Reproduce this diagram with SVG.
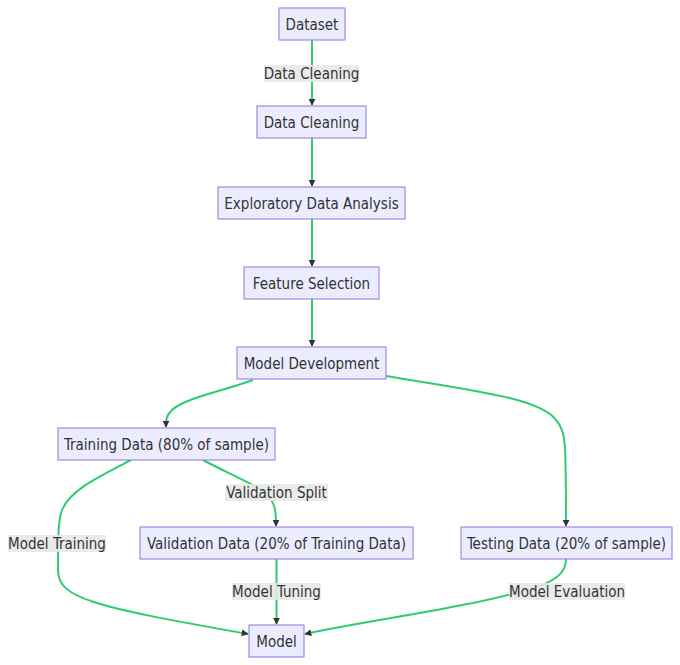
<svg xmlns="http://www.w3.org/2000/svg" width="680" height="665" viewBox="0 0 680 665">
<style>
.node rect{fill:#ECECFF;stroke:#9370DB;stroke-width:1}
text{font-family:"DejaVu Sans Condensed","DejaVu Sans","Liberation Sans",sans-serif;font-stretch:condensed;font-size:15px;fill:#333;text-anchor:middle;dominant-baseline:central}
.edge{fill:none;stroke:#2ecc71;stroke-width:2}
.lbl rect{fill:#e8e8e8;opacity:0.9}
</style>
<defs>
<marker id="arr" viewBox="0 0 10 10" refX="9" refY="5" markerWidth="7" markerHeight="7" orient="auto" markerUnits="userSpaceOnUse">
<path d="M0,0 L10,5 L0,10 z" fill="#333"/>
</marker>
</defs>
<g id="edges">
<path class="edge" d="M312,40 V105" marker-end="url(#arr)"/>
<path class="edge" d="M312,138 V186" marker-end="url(#arr)"/>
<path class="edge" d="M312,219 V266" marker-end="url(#arr)"/>
<path class="edge" d="M312,299 V346" marker-end="url(#arr)"/>
<path class="edge" d="M253,380 C220,392 185,398 172,410 C166,416 166,420 166,427" marker-end="url(#arr)"/>
<path class="edge" d="M386,376 C470,390 540,398 556,420 C566,432 566,440 566,526" marker-end="url(#arr)"/>
<path class="edge" d="M203,460 C225,472 250,482 264,492 C276,502 276,512 276,526" marker-end="url(#arr)"/>
<path class="edge" d="M131,460 C100,476 70,490 62,510 C58,520 58,540 58,570 C58,598 90,606 248,634" marker-end="url(#arr)"/>
<path class="edge" d="M276.5,559 V624" marker-end="url(#arr)"/>
<path class="edge" d="M566,559 C566,570 560,578 540,586 C470,608 380,618 305,634" marker-end="url(#arr)"/>
</g>
<g id="edge-labels">
<g class="lbl"><rect x="264" y="65" width="95" height="17"/><text x="311.5" y="73.5">Data Cleaning</text></g>
<g class="lbl"><rect x="225" y="484" width="103" height="17"/><text x="276.5" y="492.5">Validation Split</text></g>
<g class="lbl"><rect x="8" y="535" width="98" height="17"/><text x="57" y="543.5">Model Training</text></g>
<g class="lbl"><rect x="232" y="583" width="89" height="17"/><text x="276.5" y="591.5">Model Tuning</text></g>
<g class="lbl"><rect x="509" y="583" width="116" height="17"/><text x="567" y="591.5">Model Evaluation</text></g>
</g>
<g id="n-dataset" class="node"><rect x="279" y="8" width="66" height="32"/><text x="312" y="24.5">Dataset</text></g>
<g id="n-cleaning" class="node"><rect x="257" y="106" width="109" height="32"/><text x="311.5" y="122.5">Data Cleaning</text></g>
<g id="n-eda" class="node"><rect x="218" y="187" width="187" height="32"/><text x="311.5" y="203.5">Exploratory Data Analysis</text></g>
<g id="n-features" class="node"><rect x="244" y="267" width="135" height="32"/><text x="311.5" y="283.5">Feature Selection</text></g>
<g id="n-dev" class="node"><rect x="237" y="347" width="149" height="32"/><text x="311.5" y="363.5">Model Development</text></g>
<g id="n-train" class="node"><rect x="58" y="428" width="217" height="32"/><text x="166.5" y="444.5">Training Data (80% of sample)</text></g>
<g id="n-valid" class="node"><rect x="140" y="527" width="273" height="32"/><text x="276.5" y="543.5">Validation Data (20% of Training Data)</text></g>
<g id="n-test" class="node"><rect x="461" y="527" width="211" height="32"/><text x="566.5" y="543.5">Testing Data (20% of sample)</text></g>
<g id="n-model" class="node"><rect x="249" y="625" width="55" height="32"/><text x="276.5" y="641.5">Model</text></g>
</svg>
